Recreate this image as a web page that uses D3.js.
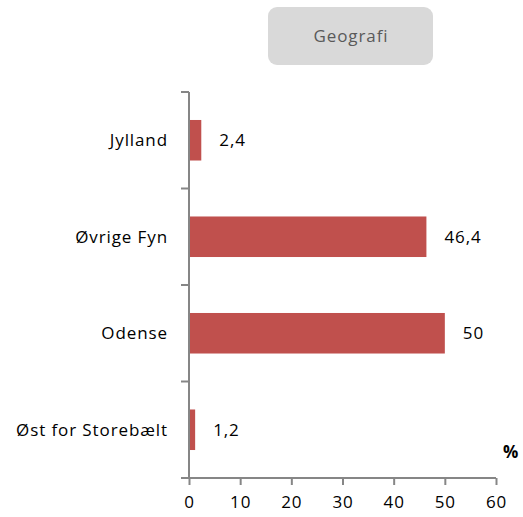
<!DOCTYPE html>
<html>
<head>
<meta charset="utf-8">
<script src="https://cdn.jsdelivr.net/npm/d3@7"></script>
<style>
  body { margin: 0; background: #fff; }
  text { font-family: "Open Sans", "Noto Sans", sans-serif; letter-spacing: 0.9px; }
</style>
</head>
<body>
<svg width="523" height="517"></svg>
<script>
var categories = ["Jylland", "Øvrige Fyn", "Odense", "Øst for Storebælt"];
var values = [2.4, 46.4, 50, 1.2];
var valueLabels = ["2,4", "46,4", "50", "1,2"];
var xTicks = [0, 10, 20, 30, 40, 50, 60];

var svg = d3.select("svg");

var x = d3.scaleLinear().domain([0, 60]).range([189, 496]);
var y = d3.scaleBand().domain(categories).range([92, 478]).paddingInner(0.58).paddingOuter(0.29);

// title box
svg.append("rect")
    .attr("x", 268).attr("y", 7).attr("width", 165).attr("height", 58)
    .attr("rx", 9).attr("fill", "#d9d9d9");
svg.append("text")
    .attr("x", 351).attr("y", 42)
    .attr("text-anchor", "middle")
    .attr("font-size", 17).attr("fill", "#595959")
    .text("Geografi");

// bars
svg.append("g").selectAll("rect")
    .data(values)
    .enter().append("rect")
      .attr("x", x(0))
      .attr("y", function(d, i) { return y(categories[i]); })
      .attr("width", function(d) { return x(d) - x(0); })
      .attr("height", y.bandwidth())
      .attr("fill", "#c0504d");

// value labels
svg.append("g").selectAll("text")
    .data(values)
    .enter().append("text")
      .attr("x", function(d) { return x(d) + 18; })
      .attr("y", function(d, i) { return y(categories[i]) + y.bandwidth() / 2; })
      .attr("dy", "0.35em")
      .attr("font-size", 17).attr("fill", "#000")
      .text(function(d, i) { return valueLabels[i]; });

// x axis
var xAxis = svg.append("g")
    .attr("transform", "translate(0,478)")
    .call(d3.axisBottom(x).tickValues(xTicks).tickSize(7).tickPadding(11).tickSizeOuter(0));
xAxis.select(".domain").attr("stroke", "#868686").attr("stroke-width", 2)
    .attr("d", "M181,0H" + x(60));
xAxis.selectAll(".tick line").attr("stroke", "#868686").attr("stroke-width", 2);
xAxis.selectAll(".tick text").attr("font-size", 17).attr("fill", "#000")
    .attr("font-family", "'Open Sans', 'Noto Sans', sans-serif");

// y axis
var yAxis = svg.append("g");
yAxis.append("line")
    .attr("x1", x(0)).attr("x2", x(0)).attr("y1", 92).attr("y2", 478)
    .attr("stroke", "#868686").attr("stroke-width", 2);
yAxis.selectAll("line.tick")
    .data(d3.range(categories.length).map(function(i) { return y(categories[i]) - y.step() * y.paddingInner() / 2; }).concat([478]))
    .enter().append("line")
      .attr("class", "tick")
      .attr("x1", x(0) - 8).attr("x2", x(0))
      .attr("y1", function(d) { return d; }).attr("y2", function(d) { return d; })
      .attr("stroke", "#868686").attr("stroke-width", 2);
yAxis.selectAll("text")
    .data(categories)
    .enter().append("text")
      .attr("x", 168)
      .attr("y", function(d) { return y(d) + y.bandwidth() / 2; })
      .attr("dy", "0.35em")
      .attr("text-anchor", "end")
      .attr("font-size", 17).attr("fill", "#000")
      .text(function(d) { return d; });

// unit
svg.append("text")
    .attr("x", 503).attr("y", 458)
    .attr("font-size", 17).attr("font-weight", "bold")
    .text("%");
</script>
</body>
</html>
